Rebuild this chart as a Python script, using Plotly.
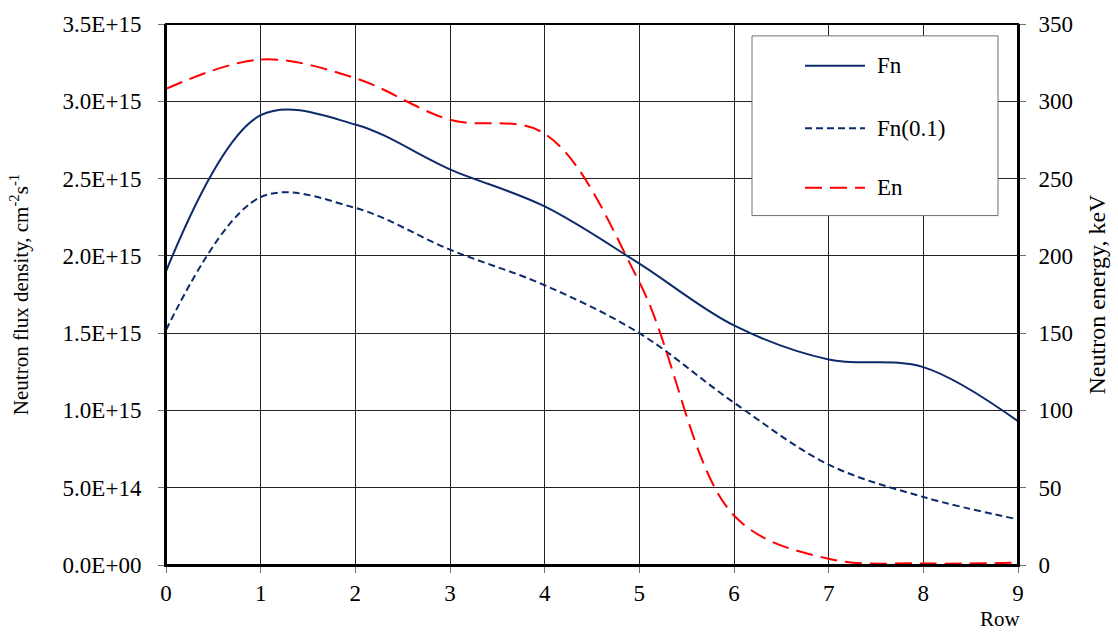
import plotly.graph_objects as go

rows = [0, 1, 2, 3, 4, 5, 6, 7, 8, 9]
fn = [1.90e15, 2.91e15, 2.85e15, 2.56e15, 2.32e15, 1.95e15, 1.55e15, 1.33e15, 1.28e15, 0.93e15]
fn01 = [1.52e15, 2.38e15, 2.31e15, 2.04e15, 1.81e15, 1.50e15, 1.05e15, 0.65e15, 0.44e15, 0.295e15]
en = [308, 327, 315, 288, 279, 183, 32, 4, 1, 1.5]

left_ticks = [0, 5e14, 1e15, 1.5e15, 2e15, 2.5e15, 3e15, 3.5e15]
left_labels = ["0.0E+00", "5.0E+14", "1.0E+15", "1.5E+15", "2.0E+15", "2.5E+15", "3.0E+15", "3.5E+15"]
right_ticks = [0, 50, 100, 150, 200, 250, 300, 350]
x_ticks = rows
series_names = ["Fn", "Fn(0.1)", "En"]

FONT = "'Liberation Serif', 'Times New Roman', serif"
FS = 23
NAVY = "#0d2a6b"
RED = "#ff0000"
styles = [
    dict(color=NAVY, width=2, dash="solid"),
    dict(color=NAVY, width=2, dash="7px,4px"),
    dict(color=RED, width=2, dash="17px,8px"),
]

fig = go.Figure()
fig.add_trace(go.Scatter(x=rows, y=fn, name=series_names[0], mode="lines",
                         line=dict(**styles[0], shape="spline", smoothing=1)))
fig.add_trace(go.Scatter(x=rows, y=fn01, name=series_names[1], mode="lines",
                         line=dict(**styles[1], shape="spline", smoothing=1)))
fig.add_trace(go.Scatter(x=rows, y=en, name=series_names[2], mode="lines", yaxis="y2",
                         line=dict(**styles[2], shape="spline", smoothing=1)))

axis_common = dict(showline=True, linecolor="black", linewidth=2, mirror=False,
                   ticks="outside", ticklen=6, tickcolor="#707070", zeroline=False,
                   tickfont=dict(family=FONT, size=FS, color="black"))

fig.update_layout(
    width=1118, height=632,
    margin=dict(l=166, r=100, t=20, b=67),
    paper_bgcolor="white", plot_bgcolor="white",
    font=dict(family=FONT, size=FS, color="black"),
    showlegend=False,
    xaxis=dict(range=[0, 9], tickvals=x_ticks, showgrid=True, gridcolor="#222222", gridwidth=1,
               ticklabelstandoff=0, **axis_common),
    yaxis=dict(range=[0, 3.5e15], tickvals=left_ticks, ticktext=left_labels, showgrid=True,
               gridcolor="#222222", gridwidth=1, ticklabelstandoff=12,
               title=dict(text="Neutron flux density, cm<sup>-2</sup>s<sup>-1</sup>", standoff=28,
                          font=dict(family=FONT, size=21)),
               **axis_common),
    yaxis2=dict(range=[0, 350], tickvals=right_ticks, overlaying="y", side="right", showgrid=False,
                ticklabelstandoff=8,
                title=dict(text="Neutron energy, keV", standoff=16, font=dict(family=FONT, size=24)),
                **axis_common),
)

# plot frame
fig.add_shape(type="rect", xref="paper", yref="paper", x0=0, y0=0, x1=1, y1=1,
              line=dict(color="black", width=2), layer="above")

# legend box (drawn manually to match the original layout)
fig.add_shape(type="rect", xref="paper", yref="paper", x0=0.6878, y0=0.6459, x1=0.9765, y1=0.978,
              line=dict(color="#707070", width=1), fillcolor="white", layer="above")
leg_y = [0.9229, 0.8073, 0.6972]
for name, st, yy in zip(series_names, styles, leg_y):
    fig.add_shape(type="line", xref="paper", yref="paper", x0=0.75, x1=0.8204, y0=yy, y1=yy,
                  line=st, layer="above")
    fig.add_annotation(text=name, xref="paper", yref="paper", x=0.8322, y=yy,
                       xanchor="left", yanchor="middle", showarrow=False,
                       font=dict(family=FONT, size=FS))

fig.add_annotation(text="Row", xref="paper", yref="paper", x=0.979, y=-0.0991,
                   xanchor="center", yanchor="middle", showarrow=False,
                   font=dict(family=FONT, size=21))

fig.write_html("out.html")
